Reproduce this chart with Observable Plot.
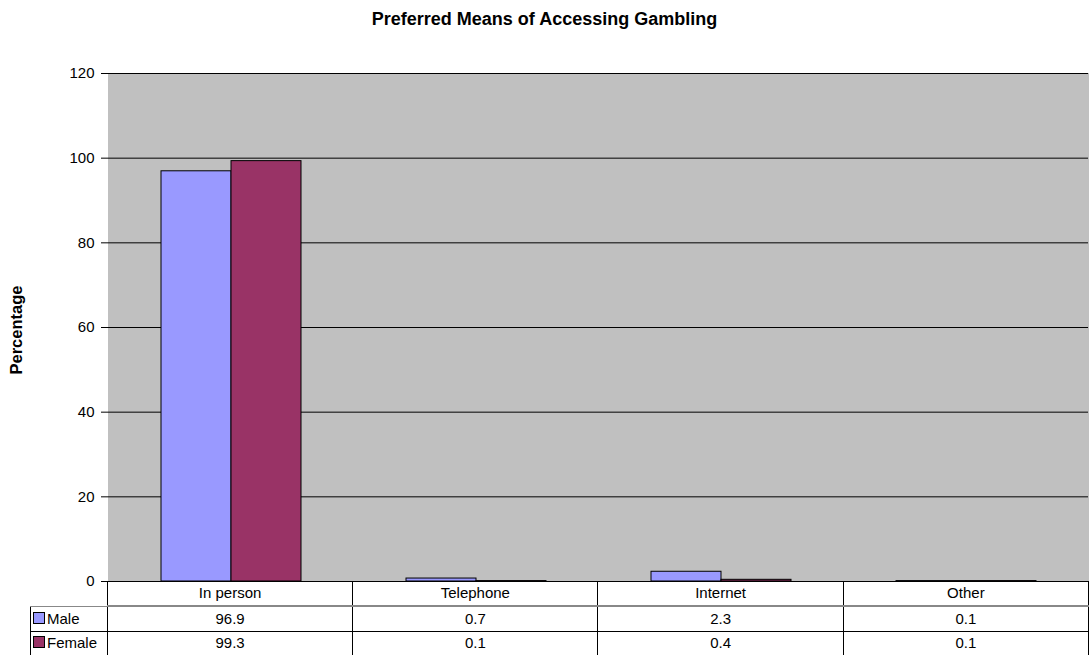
<!DOCTYPE html>
<html>
<head>
<meta charset="utf-8">
<script src="https://cdn.jsdelivr.net/npm/d3@7"></script>
<script src="https://cdn.jsdelivr.net/npm/@observablehq/plot@0.6"></script>
<style>
  html, body { margin: 0; padding: 0; background: #fff; }
  body { width: 1089px; height: 655px; overflow: hidden; position: relative; font-family: "Liberation Sans", Arial, sans-serif; }
  #title { position: absolute; top: 10px; left: 0; width: 1089px; text-align: center; font-weight: bold; font-size: 18px; line-height: 18px; }
  #chart { position: absolute; top: 0; left: 0; }
  #table { position: absolute; left: 30px; top: 581px; border-collapse: collapse; font-size: 15px; table-layout: fixed; }
  #table td { padding: 0; text-align: center; border: 1px solid #000; box-sizing: border-box; line-height: 16px; }
  #table td.lab { text-align: left; padding-left: 2px; }
  .key { display: inline-block; width: 10px; height: 10px; border: 1px solid #000; margin-right: 2px; vertical-align: 0px; }
</style>
</head>
<body>
<div id="chart"></div>
<div id="title">Preferred Means of Accessing Gambling</div>
<table id="table"></table>
<script>
const categories = ["In person", "Telephone", "Internet", "Other"];
const series = ["Male", "Female"];
const maleValues = [96.9, 0.7, 2.3, 0.1];
const femaleValues = [99.3, 0.1, 0.4, 0.1];
const yTicks = [0, 20, 40, 60, 80, 100, 120];
const colors = ["#9999FF", "#993366"];

const data = [];
categories.forEach((c, i) => {
  data.push({category: c, series: "Male", value: maleValues[i]});
  data.push({category: c, series: "Female", value: femaleValues[i]});
});

const plot = Plot.plot({
  width: 1089,
  height: 592,
  marginTop: 73,
  marginBottom: 11,
  marginLeft: 107,
  marginRight: 0,
  style: {fontFamily: "'Liberation Sans', Arial, sans-serif", fontSize: "15px", color: "#000", background: "transparent", overflow: "visible"},
  fx: {domain: categories, padding: 0, axis: null},
  x: {domain: series, paddingInner: 0, paddingOuter: 0.75, axis: null},
  y: {domain: [0, 120], ticks: yTicks, label: null},
  color: {domain: series, range: colors},
  marks: [
    Plot.frame({fill: "#C0C0C0", stroke: "#C0C0C0"}),
    Plot.ruleY(yTicks, {stroke: "#000", strokeWidth: 1}),
    Plot.barY(data, {fx: "category", x: "series", y: "value", fill: "series", stroke: "#000", strokeWidth: 1}),
    Plot.axisY({ticks: yTicks, tickSize: 7, tickPadding: 7, fontSize: 15, label: null, facetAnchor: "left", stroke: "#000"}),
    Plot.ruleX([0], {frameAnchor: "left", facetAnchor: "left", stroke: "#000"})
  ]
});
document.getElementById("chart").appendChild(plot);

// y-axis title
const svg = d3.select(plot);
svg.append("text")
  .attr("transform", "translate(22,330) rotate(-90)")
  .attr("text-anchor", "middle")
  .attr("font-weight", "bold")
  .attr("font-size", "16.5px")
  .attr("font-family", "'Liberation Sans', Arial, sans-serif")
  .text("Percentage");

// data table
const table = d3.select("#table");
const colW = (1089 - 107) / categories.length;
const cg = table.append("colgroup");
cg.append("col").style("width", "77px");
categories.forEach(() => cg.append("col").style("width", colW + "px"));
const head = table.append("tr").style("height", "25px");
head.append("td").style("border", "none").style("border-bottom", "1px solid #888");
categories.forEach(c => head.append("td").style("border-top", "none").style("border-bottom", "2px solid #888").text(c));
[[series[0], maleValues, colors[0]], [series[1], femaleValues, colors[1]]].forEach(([name, vals, col], k) => {
  const tr = table.append("tr").style("height", k === 0 ? "25px" : "24px");
  const td = tr.append("td").attr("class", "lab");
  td.append("span").attr("class", "key").style("background", col);
  td.append("span").text(name);
  vals.forEach(v => tr.append("td").text(v.toFixed(1)));
});
</script>
</body>
</html>
